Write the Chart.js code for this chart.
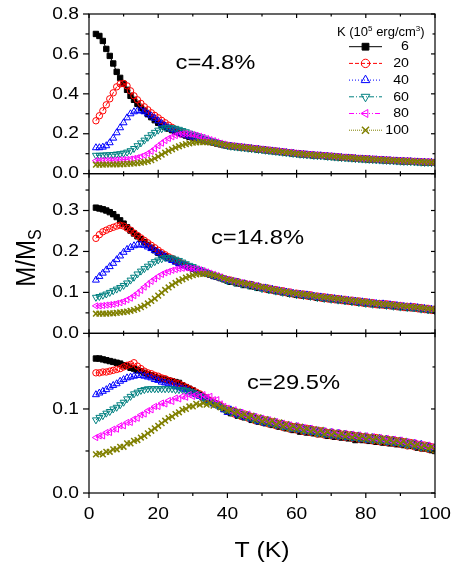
<!DOCTYPE html>
<html>
<head>
<meta charset="utf-8">
<script src="https://cdn.jsdelivr.net/npm/chart.js@4.4.1/dist/chart.umd.min.js"></script>
<style>
html, body { margin: 0; padding: 0; background: #fff; }
#wrap { width: 454px; height: 572px; }
</style>
</head>
<body>
<div id="wrap"><canvas id="chart" width="454" height="572"></canvas></div>
<script>
"use strict";

// temperature T (K), shared by every curve
var temps = [2, 3, 4, 5, 6, 7, 8, 9, 10, 11, 12, 13, 14, 15, 16, 17, 18, 19, 20, 21,
	22, 23, 24, 25, 26, 27, 28, 29, 30, 31, 32, 33, 34, 35, 36, 37, 38, 39, 40, 41,
	42, 43, 44, 45, 46, 47, 48, 49, 50, 51, 52, 53, 54, 55, 56, 57, 58, 59, 60, 61,
	62, 63, 64, 65, 66, 67, 68, 69, 70, 71, 72, 73, 74, 75, 76, 77, 78, 79, 80, 81,
	82, 83, 84, 85, 86, 87, 88, 89, 90, 91, 92, 93, 94, 95, 96, 97, 98, 99, 100];

// anisotropy K (10^5 erg/cm^3), one curve each
var kLabels = ["6", "20", "40", "60", "80", "100"];
var panelTags = ["c=4.8%", "c=14.8%", "c=29.5%"];
var xTicks = [0, 20, 40, 60, 80, 100];

// M/Ms, c = 4.8 %
var c48K6 = [0.700, 0.690, 0.665, 0.625, 0.590, 0.552, 0.510, 0.480, 0.450, 0.420,
	0.390, 0.370, 0.350, 0.330, 0.315, 0.298, 0.283, 0.268, 0.255, 0.245,
	0.235, 0.226, 0.218, 0.210, 0.203, 0.197, 0.191, 0.185, 0.180, 0.175,
	0.171, 0.167, 0.163, 0.159, 0.155, 0.151, 0.147, 0.143,
	0.140, 0.137, 0.136, 0.133, 0.132, 0.129, 0.128, 0.125, 0.124, 0.121,
	0.120, 0.117, 0.116, 0.113, 0.112, 0.109, 0.108, 0.105, 0.104, 0.101,
	0.100, 0.097, 0.097, 0.094, 0.094, 0.091, 0.091, 0.089, 0.089, 0.086,
	0.086, 0.083, 0.083, 0.080, 0.080, 0.078, 0.078, 0.075, 0.075, 0.073,
	0.073, 0.071, 0.071, 0.069, 0.069, 0.067, 0.067, 0.065, 0.065, 0.063,
	0.063, 0.061, 0.062, 0.060, 0.060, 0.058, 0.058, 0.056, 0.057, 0.055, 0.055];
var c48K20 = [0.265, 0.290, 0.315, 0.345, 0.375, 0.405, 0.435, 0.450, 0.452, 0.440,
	0.415, 0.390, 0.370, 0.352, 0.335, 0.320, 0.305, 0.292, 0.280, 0.267,
	0.255, 0.243, 0.232, 0.222, 0.213, 0.205, 0.198, 0.191, 0.185, 0.180,
	0.175, 0.170, 0.166, 0.161, 0.157, 0.153, 0.149, 0.145,
	0.142, 0.139, 0.137, 0.135, 0.133, 0.131, 0.129, 0.127, 0.125, 0.123,
	0.121, 0.119, 0.117, 0.115, 0.113, 0.111, 0.109, 0.107, 0.105, 0.103,
	0.101, 0.099, 0.098, 0.096, 0.095, 0.093, 0.092, 0.091, 0.090, 0.088,
	0.087, 0.085, 0.084, 0.082, 0.081, 0.080, 0.079, 0.077, 0.076, 0.075,
	0.074, 0.073, 0.072, 0.071, 0.070, 0.069, 0.068, 0.067, 0.066, 0.065,
	0.064, 0.063, 0.063, 0.062, 0.061, 0.060, 0.059, 0.058, 0.058, 0.057, 0.056];
var c48K40 = [0.130, 0.130, 0.133, 0.140, 0.155, 0.178, 0.205, 0.230, 0.255, 0.280,
	0.300, 0.310, 0.315, 0.315, 0.310, 0.300, 0.290, 0.278, 0.265, 0.252,
	0.240, 0.230, 0.222, 0.214, 0.207, 0.200, 0.194, 0.188, 0.183, 0.178,
	0.173, 0.169, 0.165, 0.160, 0.156, 0.152, 0.148, 0.144,
	0.139, 0.138, 0.135, 0.134, 0.131, 0.130, 0.127, 0.126, 0.123, 0.122,
	0.119, 0.118, 0.115, 0.114, 0.111, 0.110, 0.107, 0.106, 0.103, 0.102,
	0.099, 0.098, 0.096, 0.095, 0.093, 0.092, 0.090, 0.090, 0.088, 0.087,
	0.085, 0.084, 0.082, 0.081, 0.079, 0.079, 0.077, 0.076, 0.074, 0.074,
	0.072, 0.072, 0.070, 0.070, 0.068, 0.068, 0.066, 0.066, 0.064, 0.064,
	0.062, 0.062, 0.061, 0.061, 0.059, 0.059, 0.057, 0.057, 0.056, 0.056, 0.054];
var c48K60 = [0.092, 0.092, 0.093, 0.094, 0.095, 0.096, 0.098, 0.100, 0.103, 0.108,
	0.115, 0.126, 0.140, 0.154, 0.168, 0.182, 0.195, 0.207, 0.218, 0.225,
	0.230, 0.232, 0.230, 0.227, 0.222, 0.216, 0.210, 0.203, 0.197, 0.191,
	0.185, 0.179, 0.173, 0.167, 0.162, 0.156, 0.151, 0.146,
	0.140, 0.137, 0.135, 0.133, 0.131, 0.129, 0.127, 0.125, 0.123, 0.121,
	0.119, 0.117, 0.115, 0.113, 0.111, 0.109, 0.107, 0.105, 0.103, 0.101,
	0.099, 0.097, 0.096, 0.094, 0.093, 0.091, 0.090, 0.089, 0.088, 0.086,
	0.085, 0.083, 0.082, 0.080, 0.079, 0.078, 0.077, 0.075, 0.074, 0.073,
	0.072, 0.071, 0.070, 0.069, 0.068, 0.067, 0.066, 0.065, 0.064, 0.063,
	0.062, 0.061, 0.061, 0.060, 0.059, 0.058, 0.057, 0.056, 0.056, 0.055, 0.054];
var c48K80 = [0.065, 0.065, 0.066, 0.066, 0.067, 0.067, 0.068, 0.069, 0.070, 0.071,
	0.073, 0.076, 0.080, 0.085, 0.092, 0.101, 0.112, 0.125, 0.140, 0.153,
	0.166, 0.177, 0.185, 0.191, 0.196, 0.199, 0.200, 0.199, 0.196, 0.192,
	0.187, 0.182, 0.176, 0.170, 0.165, 0.159, 0.153, 0.148,
	0.143, 0.140, 0.139, 0.136, 0.135, 0.132, 0.131, 0.128, 0.127, 0.124,
	0.123, 0.120, 0.119, 0.116, 0.115, 0.112, 0.111, 0.108, 0.107, 0.104,
	0.103, 0.100, 0.100, 0.097, 0.097, 0.094, 0.094, 0.091, 0.092, 0.089,
	0.089, 0.086, 0.086, 0.083, 0.083, 0.081, 0.081, 0.078, 0.078, 0.076,
	0.076, 0.074, 0.074, 0.072, 0.072, 0.070, 0.070, 0.068, 0.068, 0.066,
	0.066, 0.064, 0.065, 0.063, 0.063, 0.061, 0.061, 0.059, 0.060, 0.058, 0.058];
var c48K100 = [0.045, 0.045, 0.045, 0.046, 0.046, 0.046, 0.047, 0.047, 0.048, 0.049,
	0.050, 0.051, 0.053, 0.055, 0.058, 0.062, 0.068, 0.076, 0.085, 0.095,
	0.105, 0.114, 0.122, 0.130, 0.137, 0.143, 0.148, 0.152, 0.155, 0.157,
	0.158, 0.158, 0.158, 0.157, 0.155, 0.152, 0.149, 0.145,
	0.141, 0.139, 0.138, 0.135, 0.133, 0.131, 0.130, 0.127, 0.125, 0.123,
	0.122, 0.119, 0.117, 0.115, 0.114, 0.111, 0.109, 0.107, 0.106, 0.103,
	0.101, 0.099, 0.099, 0.096, 0.095, 0.093, 0.093, 0.091, 0.091, 0.088,
	0.088, 0.085, 0.085, 0.082, 0.081, 0.080, 0.080, 0.077, 0.077, 0.075,
	0.075, 0.073, 0.073, 0.071, 0.071, 0.069, 0.069, 0.067, 0.067, 0.065,
	0.065, 0.063, 0.064, 0.062, 0.062, 0.060, 0.060, 0.058, 0.059, 0.057, 0.057];

// M/Ms, c = 14.8 %
var c148K6 = [0.307, 0.305, 0.303, 0.300, 0.296, 0.291, 0.284, 0.276, 0.268, 0.259,
	0.251, 0.244, 0.237, 0.230, 0.223, 0.216, 0.209, 0.203, 0.197, 0.192,
	0.188, 0.184, 0.180, 0.176, 0.172, 0.168, 0.165, 0.161, 0.158, 0.155,
	0.152, 0.149, 0.146, 0.143, 0.140, 0.138, 0.135, 0.132,
	0.129, 0.126, 0.127, 0.122, 0.121, 0.118, 0.120, 0.115, 0.114, 0.111,
	0.110, 0.111, 0.106, 0.107, 0.103, 0.104, 0.100, 0.101, 0.097, 0.098,
	0.094, 0.096, 0.092, 0.094, 0.090, 0.091, 0.087, 0.089, 0.085, 0.087,
	0.083, 0.085, 0.081, 0.083, 0.079, 0.081, 0.077, 0.079, 0.075, 0.077,
	0.073, 0.075, 0.071, 0.073, 0.069, 0.072, 0.068, 0.070, 0.066, 0.068,
	0.064, 0.066, 0.062, 0.065, 0.061, 0.063, 0.059, 0.061, 0.057, 0.059, 0.055];
var c148K20 = [0.232, 0.241, 0.248, 0.252, 0.256, 0.259, 0.262, 0.264, 0.262, 0.257,
	0.252, 0.245, 0.239, 0.233, 0.227, 0.221, 0.215, 0.209, 0.203, 0.197,
	0.192, 0.187, 0.183, 0.178, 0.174, 0.170, 0.166, 0.162, 0.159, 0.156,
	0.153, 0.150, 0.147, 0.144, 0.141, 0.138, 0.136, 0.133,
	0.131, 0.130, 0.125, 0.126, 0.121, 0.122, 0.118, 0.119, 0.114, 0.115,
	0.112, 0.108, 0.110, 0.105, 0.107, 0.102, 0.104, 0.099, 0.101, 0.096,
	0.098, 0.093, 0.096, 0.091, 0.094, 0.089, 0.091, 0.086, 0.089, 0.084,
	0.087, 0.082, 0.085, 0.080, 0.083, 0.078, 0.081, 0.076, 0.079, 0.074,
	0.077, 0.072, 0.075, 0.070, 0.073, 0.069, 0.072, 0.067, 0.070, 0.065,
	0.068, 0.063, 0.066, 0.062, 0.065, 0.060, 0.063, 0.058, 0.061, 0.056, 0.059];
var c148K40 = [0.130, 0.139, 0.147, 0.155, 0.163, 0.171, 0.180, 0.189, 0.198, 0.205,
	0.210, 0.214, 0.216, 0.216, 0.215, 0.211, 0.207, 0.202, 0.197, 0.192,
	0.187, 0.182, 0.178, 0.174, 0.170, 0.167, 0.164, 0.161, 0.158, 0.155,
	0.152, 0.149, 0.146, 0.143, 0.140, 0.137, 0.135, 0.132,
	0.130, 0.127, 0.126, 0.125, 0.121, 0.121, 0.118, 0.118, 0.114, 0.114,
	0.110, 0.111, 0.107, 0.108, 0.104, 0.104, 0.101, 0.101, 0.098, 0.098,
	0.095, 0.096, 0.093, 0.094, 0.091, 0.091, 0.088, 0.089, 0.086, 0.087,
	0.084, 0.085, 0.082, 0.083, 0.080, 0.081, 0.078, 0.079, 0.076, 0.077,
	0.074, 0.075, 0.072, 0.073, 0.070, 0.072, 0.069, 0.070, 0.067, 0.068,
	0.065, 0.066, 0.063, 0.065, 0.062, 0.063, 0.060, 0.061, 0.058, 0.059, 0.056];
var c148K60 = [0.088, 0.090, 0.093, 0.096, 0.100, 0.104, 0.108, 0.112, 0.117, 0.123,
	0.130, 0.137, 0.145, 0.152, 0.158, 0.164, 0.170, 0.175, 0.179, 0.182,
	0.185, 0.185, 0.184, 0.181, 0.178, 0.174, 0.170, 0.166, 0.163, 0.159,
	0.156, 0.152, 0.149, 0.145, 0.142, 0.139, 0.136, 0.133,
	0.128, 0.129, 0.124, 0.125, 0.120, 0.121, 0.117, 0.118, 0.113, 0.114,
	0.109, 0.111, 0.106, 0.107, 0.103, 0.104, 0.100, 0.101, 0.097, 0.098,
	0.094, 0.096, 0.092, 0.094, 0.090, 0.091, 0.087, 0.089, 0.085, 0.087,
	0.083, 0.085, 0.081, 0.083, 0.079, 0.081, 0.077, 0.079, 0.075, 0.077,
	0.073, 0.075, 0.071, 0.074, 0.070, 0.072, 0.068, 0.070, 0.066, 0.068,
	0.064, 0.066, 0.063, 0.064, 0.062, 0.063, 0.059, 0.061, 0.057, 0.059, 0.055];
var c148K80 = [0.067, 0.067, 0.068, 0.069, 0.070, 0.071, 0.073, 0.075, 0.078, 0.082,
	0.086, 0.092, 0.098, 0.105, 0.113, 0.120, 0.127, 0.133, 0.139, 0.144,
	0.148, 0.151, 0.154, 0.156, 0.158, 0.159, 0.160, 0.159, 0.158, 0.157,
	0.155, 0.153, 0.150, 0.147, 0.144, 0.141, 0.138, 0.134,
	0.132, 0.129, 0.128, 0.125, 0.124, 0.121, 0.121, 0.118, 0.117, 0.114,
	0.113, 0.111, 0.110, 0.107, 0.107, 0.104, 0.104, 0.101, 0.101, 0.098,
	0.098, 0.096, 0.096, 0.094, 0.094, 0.091, 0.091, 0.089, 0.089, 0.087,
	0.087, 0.085, 0.085, 0.083, 0.083, 0.081, 0.081, 0.079, 0.079, 0.077,
	0.077, 0.075, 0.075, 0.073, 0.073, 0.072, 0.072, 0.070, 0.070, 0.068,
	0.068, 0.066, 0.066, 0.065, 0.065, 0.063, 0.063, 0.061, 0.061, 0.059, 0.059];
var c148K100 = [0.048, 0.048, 0.048, 0.048, 0.049, 0.049, 0.050, 0.051, 0.052, 0.053,
	0.055, 0.057, 0.060, 0.064, 0.068, 0.073, 0.079, 0.085, 0.092, 0.099,
	0.106, 0.112, 0.118, 0.123, 0.128, 0.132, 0.136, 0.139, 0.142, 0.144,
	0.145, 0.145, 0.145, 0.144, 0.142, 0.140, 0.137, 0.134,
	0.131, 0.130, 0.127, 0.126, 0.123, 0.122, 0.120, 0.119, 0.116, 0.115,
	0.112, 0.112, 0.109, 0.108, 0.106, 0.105, 0.103, 0.102, 0.100, 0.099,
	0.097, 0.097, 0.095, 0.095, 0.093, 0.092, 0.090, 0.090, 0.088, 0.088,
	0.086, 0.086, 0.084, 0.084, 0.082, 0.082, 0.080, 0.080, 0.078, 0.078,
	0.076, 0.076, 0.074, 0.074, 0.072, 0.072, 0.071, 0.071, 0.069, 0.069,
	0.067, 0.067, 0.065, 0.065, 0.064, 0.064, 0.062, 0.062, 0.060, 0.060, 0.058];

// M/Ms, c = 29.5 %
var c295K6 = [0.160, 0.160, 0.159, 0.158, 0.157, 0.156, 0.155, 0.154, 0.152, 0.151,
	0.149, 0.148, 0.146, 0.145, 0.143, 0.141, 0.140, 0.138, 0.137, 0.136,
	0.135, 0.134, 0.133, 0.132, 0.131, 0.128, 0.126, 0.124, 0.122, 0.119,
	0.117, 0.114, 0.112, 0.109, 0.107, 0.105, 0.103, 0.100,
	0.097, 0.095, 0.097, 0.092, 0.094, 0.090, 0.092, 0.087, 0.089, 0.085,
	0.087, 0.083, 0.085, 0.081, 0.083, 0.079, 0.081, 0.077, 0.080, 0.075,
	0.079, 0.073, 0.077, 0.072, 0.076, 0.071, 0.074, 0.070, 0.073, 0.068,
	0.072, 0.067, 0.071, 0.066, 0.070, 0.065, 0.069, 0.063, 0.068, 0.063,
	0.067, 0.062, 0.066, 0.061, 0.065, 0.060, 0.064, 0.059, 0.063, 0.058,
	0.062, 0.057, 0.060, 0.056, 0.059, 0.054, 0.057, 0.053, 0.056, 0.051, 0.050];
var c295K20 = [0.143, 0.143, 0.144, 0.144, 0.145, 0.146, 0.147, 0.148, 0.150, 0.152,
	0.153, 0.155, 0.151, 0.148, 0.145, 0.143, 0.142, 0.140, 0.139, 0.137,
	0.136, 0.134, 0.133, 0.131, 0.130, 0.128, 0.126, 0.124, 0.122, 0.120,
	0.118, 0.115, 0.113, 0.110, 0.108, 0.106, 0.104, 0.101,
	0.100, 0.098, 0.094, 0.096, 0.091, 0.094, 0.089, 0.091, 0.086, 0.089,
	0.084, 0.087, 0.082, 0.085, 0.080, 0.083, 0.078, 0.081, 0.076, 0.079,
	0.075, 0.078, 0.073, 0.077, 0.072, 0.075, 0.070, 0.074, 0.069, 0.072,
	0.068, 0.071, 0.067, 0.070, 0.066, 0.069, 0.065, 0.068, 0.064, 0.067,
	0.063, 0.066, 0.062, 0.066, 0.061, 0.064, 0.060, 0.063, 0.059, 0.062,
	0.058, 0.061, 0.056, 0.060, 0.055, 0.058, 0.053, 0.057, 0.052, 0.055, 0.051];
var c295K40 = [0.117, 0.119, 0.121, 0.123, 0.126, 0.128, 0.130, 0.133, 0.135, 0.137,
	0.138, 0.139, 0.140, 0.140, 0.139, 0.138, 0.137, 0.135, 0.134, 0.132,
	0.131, 0.130, 0.129, 0.127, 0.126, 0.124, 0.123, 0.121, 0.119, 0.117,
	0.115, 0.113, 0.110, 0.108, 0.106, 0.104, 0.102, 0.099,
	0.096, 0.099, 0.095, 0.093, 0.095, 0.090, 0.092, 0.088, 0.090, 0.085,
	0.088, 0.083, 0.086, 0.082, 0.084, 0.080, 0.082, 0.078, 0.080, 0.076,
	0.079, 0.075, 0.077, 0.073, 0.076, 0.072, 0.074, 0.071, 0.073, 0.069,
	0.072, 0.068, 0.071, 0.067, 0.070, 0.066, 0.069, 0.065, 0.068, 0.064,
	0.067, 0.063, 0.066, 0.063, 0.065, 0.062, 0.064, 0.060, 0.063, 0.059,
	0.062, 0.058, 0.060, 0.057, 0.059, 0.055, 0.058, 0.054, 0.056, 0.053, 0.054];
var c295K60 = [0.087, 0.090, 0.092, 0.095, 0.097, 0.100, 0.102, 0.105, 0.108, 0.112,
	0.115, 0.118, 0.120, 0.122, 0.123, 0.124, 0.124, 0.124, 0.124, 0.124,
	0.124, 0.124, 0.124, 0.123, 0.123, 0.123, 0.122, 0.121, 0.120, 0.118,
	0.116, 0.114, 0.111, 0.109, 0.107, 0.105, 0.103, 0.100,
	0.099, 0.096, 0.097, 0.093, 0.094, 0.091, 0.090, 0.089, 0.087, 0.088,
	0.085, 0.086, 0.083, 0.084, 0.081, 0.082, 0.079, 0.080, 0.077, 0.078,
	0.076, 0.077, 0.074, 0.076, 0.073, 0.074, 0.071, 0.073, 0.070, 0.071,
	0.069, 0.070, 0.068, 0.069, 0.067, 0.068, 0.066, 0.067, 0.065, 0.066,
	0.064, 0.065, 0.063, 0.065, 0.062, 0.064, 0.061, 0.062, 0.060, 0.061,
	0.059, 0.060, 0.057, 0.059, 0.056, 0.057, 0.054, 0.056, 0.053, 0.054, 0.051];
var c295K80 = [0.066, 0.068, 0.068, 0.072, 0.072, 0.076, 0.076, 0.080, 0.080, 0.084,
	0.084, 0.088, 0.089, 0.093, 0.094, 0.098, 0.099, 0.103, 0.103, 0.107,
	0.106, 0.110, 0.109, 0.113, 0.112, 0.115, 0.114, 0.117, 0.115, 0.117,
	0.115, 0.117, 0.114, 0.115, 0.111, 0.111, 0.106, 0.103,
	0.101, 0.098, 0.099, 0.096, 0.096, 0.093, 0.094, 0.091, 0.091, 0.089,
	0.089, 0.087, 0.087, 0.085, 0.085, 0.083, 0.083, 0.081, 0.081, 0.079,
	0.080, 0.078, 0.078, 0.076, 0.077, 0.075, 0.075, 0.074, 0.074, 0.072,
	0.073, 0.071, 0.072, 0.070, 0.071, 0.069, 0.070, 0.068, 0.069, 0.067,
	0.068, 0.066, 0.067, 0.065, 0.066, 0.064, 0.065, 0.063, 0.064, 0.062,
	0.063, 0.061, 0.061, 0.059, 0.060, 0.058, 0.058, 0.056, 0.057, 0.055, 0.054];
var c295K100 = [0.046, 0.047, 0.046, 0.049, 0.049, 0.052, 0.052, 0.055, 0.055, 0.059,
	0.059, 0.062, 0.063, 0.066, 0.068, 0.071, 0.074, 0.077, 0.080, 0.083,
	0.086, 0.089, 0.091, 0.094, 0.096, 0.099, 0.100, 0.103, 0.103, 0.106,
	0.105, 0.107, 0.105, 0.107, 0.104, 0.105, 0.102, 0.101,
	0.098, 0.099, 0.095, 0.097, 0.092, 0.094, 0.090, 0.092, 0.087, 0.090,
	0.085, 0.088, 0.083, 0.086, 0.081, 0.084, 0.079, 0.082, 0.077, 0.080,
	0.076, 0.079, 0.074, 0.077, 0.073, 0.076, 0.071, 0.075, 0.070, 0.073,
	0.069, 0.072, 0.068, 0.071, 0.067, 0.070, 0.066, 0.069, 0.065, 0.068,
	0.064, 0.067, 0.063, 0.066, 0.062, 0.065, 0.061, 0.064, 0.060, 0.063,
	0.059, 0.062, 0.057, 0.060, 0.056, 0.058, 0.054, 0.057, 0.053, 0.055, 0.051];

var panelData = [
	[c48K6, c48K20, c48K40, c48K60, c48K80, c48K100],
	[c148K6, c148K20, c148K40, c148K60, c148K80, c148K100],
	[c295K6, c295K20, c295K40, c295K60, c295K80, c295K100]
];

// y ranges of the three panels (top to bottom)
var panelMax = [0.8, 0.39, 0.19];
var panelMinor = [0.1, 0.05, 0.05];
var panelMajor = [0.2, 0.1, 0.1];

var seriesStyle = [
	{ color: "#000000", point: "rect", rot: 0, radius: 3.8, width: 1, filled: true, dash: [] },
	{ color: "#FF0000", point: "circle", rot: 0, radius: 3.2, width: 1, filled: false, dash: [4, 2] },
	{ color: "#0000FF", point: "triangle", rot: 0, radius: 4, width: 1, filled: false, dash: [1, 2] },
	{ color: "#008080", point: "triangle", rot: 180, radius: 4, width: 1, filled: false, dash: [5, 2, 1, 2] },
	{ color: "#FF00FF", point: "triangle", rot: 270, radius: 3.6, width: 1, filled: false, dash: [5, 2, 1, 2, 1, 2] },
	{ color: "#808000", point: "crossRot", rot: 0, radius: 4, width: 1.5, filled: false, dash: [1, 1] }
];

var STRETCH = 1.13;
var FONT = "'Liberation Sans', Arial, sans-serif";

function drawText(ctx, str, x, y, size, opts) {
	opts = opts || {};
	ctx.save();
	ctx.translate(x, y);
	ctx.scale(opts.stretch || STRETCH, 1);
	ctx.font = size + "px " + FONT;
	ctx.textAlign = opts.align || "center";
	ctx.textBaseline = opts.baseline || "middle";
	ctx.fillStyle = "#000";
	ctx.fillText(str, 0, 0);
	ctx.restore();
}

function seg(ctx, x1, y1, x2, y2) {
	ctx.beginPath();
	ctx.moveTo(x1, y1);
	ctx.lineTo(x2, y2);
	ctx.stroke();
}

function onStep(v, step) {
	var r = v / step;
	return Math.abs(r - Math.round(r)) < 1e-6;
}

var datasets = [];
panelData.forEach(function (series, p) {
	series.forEach(function (vals, s) {
		var st = seriesStyle[s];
		datasets.push({
			label: kLabels[s],
			data: temps.map(function (t, i) { return { x: t, y: vals[i] }; }),
			yAxisID: "y" + (p + 1),
			order: 5 - s,
			showLine: true,
			borderColor: st.color,
			borderWidth: 1,
			borderDash: st.dash,
			pointStyle: st.point,
			pointRotation: st.rot,
			pointRadius: st.radius,
			pointBorderWidth: st.width,
			pointBorderColor: st.color,
			pointBackgroundColor: st.filled ? st.color : "rgba(0,0,0,0)",
			tension: 0
		});
	});
});

function yScale(p) {
	return {
		type: "linear",
		position: "left",
		stack: "panels",
		stackWeight: 1,
		min: 0,
		max: panelMax[p],
		ticks: { display: false, stepSize: panelMinor[p], includeBounds: false },
		grid: { display: false },
		border: { display: false },
		afterFit: function (s) { s.width = 0; }
	};
}

var frame = {
	id: "frame",
	afterDraw: function (chart) {
		var ctx = chart.ctx, area = chart.chartArea, xs = chart.scales.x;
		ctx.save();
		ctx.strokeStyle = "#000";
		ctx.lineWidth = 1.2;
		["y1", "y2", "y3"].forEach(function (id, p) {
			var ys = chart.scales[id];
			ctx.strokeRect(area.left, ys.top, area.right - area.left, ys.bottom - ys.top);
			ys.ticks.forEach(function (t) {
				var py = ys.getPixelForValue(t.value);
				var major = onStep(t.value, panelMajor[p]);
				seg(ctx, area.left - (major ? 6 : 3.5), py, area.left, py);
				seg(ctx, area.right - (major ? 4 : 2.5), py, area.right, py);
				if (major) {
					drawText(ctx, t.value.toFixed(1), area.left - 10, py, 17, { align: "right" });
				}
			});
			xs.ticks.forEach(function (t) {
				var px = xs.getPixelForValue(t.value);
				var major = onStep(t.value, 20);
				var len = major ? 4 : 2.5;
				seg(ctx, px, ys.top, px, ys.top + len);
				if (p < 2) {
					seg(ctx, px, ys.bottom, px, ys.bottom - len);
				} else {
					seg(ctx, px, ys.bottom, px, ys.bottom + (major ? 5 : 3));
				}
			});
			drawText(ctx, panelTags[p], [215.5, 257.5, 293.5][p], [63, 238, 383][p], 21);
		});

		var yBottom = chart.scales.y3.bottom;
		xTicks.forEach(function (v) {
			drawText(ctx, String(v), xs.getPixelForValue(v), yBottom + 21, 17);
		});
		drawText(ctx, "T (K)", (area.left + area.right) / 2, 551, 22);

		// y title M/Ms, rotated
		ctx.save();
		ctx.translate(35, 258);
		ctx.scale(STRETCH, 1);
		ctx.rotate(-Math.PI / 2);
		ctx.fillStyle = "#000";
		ctx.textBaseline = "alphabetic";
		ctx.textAlign = "left";
		ctx.font = "24px " + FONT;
		var w1 = ctx.measureText("M/M").width;
		ctx.font = "16px " + FONT;
		var w2 = ctx.measureText("S").width;
		var x0 = -(w1 + w2) / 2;
		ctx.font = "24px " + FONT;
		ctx.fillText("M/M", x0, 0);
		ctx.font = "16px " + FONT;
		ctx.fillText("S", x0 + w1, 5);
		ctx.restore();

		// legend
		ctx.fillStyle = "#000";
		ctx.textBaseline = "alphabetic";
		ctx.textAlign = "left";
		var lx = 337, ly = 36;
		[["K (10", 13, 0], ["5", 8, -5], [" erg/cm", 13, 0], ["3", 8, -5], [")", 13, 0]].forEach(function (piece) {
			ctx.font = piece[1] + "px " + FONT;
			ctx.fillText(piece[0], lx, ly + piece[2]);
			lx += ctx.measureText(piece[0]).width;
		});
		kLabels.forEach(function (lab, s) {
			var st = seriesStyle[s];
			var ry = 46.7 + s * 16.7;
			ctx.save();
			ctx.strokeStyle = st.color;
			ctx.lineWidth = 1;
			ctx.setLineDash(st.dash);
			seg(ctx, 349, ry, 382, ry);
			ctx.restore();
			ctx.save();
			ctx.strokeStyle = st.color;
			ctx.fillStyle = st.filled ? st.color : "rgba(0,0,0,0)";
			ctx.lineWidth = st.width;
			Chart.helpers.drawPoint(ctx, {
				pointStyle: st.point,
				rotation: st.rot,
				radius: st.radius + 1,
				borderWidth: st.width
			}, 365.5, ry);
			ctx.restore();
			drawText(ctx, lab, 409, ry, 13.5, { align: "right", stretch: 1.05 });
		});
		ctx.restore();
	}
};

new Chart(document.getElementById("chart"), {
	type: "line",
	data: { datasets: datasets },
	options: {
		responsive: false,
		devicePixelRatio: 1,
		animation: false,
		events: [],
		layout: { padding: { left: 89, right: 19, top: 14, bottom: 79 } },
		plugins: {
			legend: { display: false },
			tooltip: { enabled: false }
		},
		scales: {
			x: {
				type: "linear",
				min: 0,
				max: 100,
				ticks: { display: false, stepSize: 10 },
				grid: { display: false },
				border: { display: false },
				afterFit: function (s) { s.height = 0; }
			},
			// stacked panels, the last one listed ends up on top
			y3: yScale(2),
			y2: yScale(1),
			y1: yScale(0)
		}
	},
	plugins: [frame]
});
</script>
</body>
</html>
